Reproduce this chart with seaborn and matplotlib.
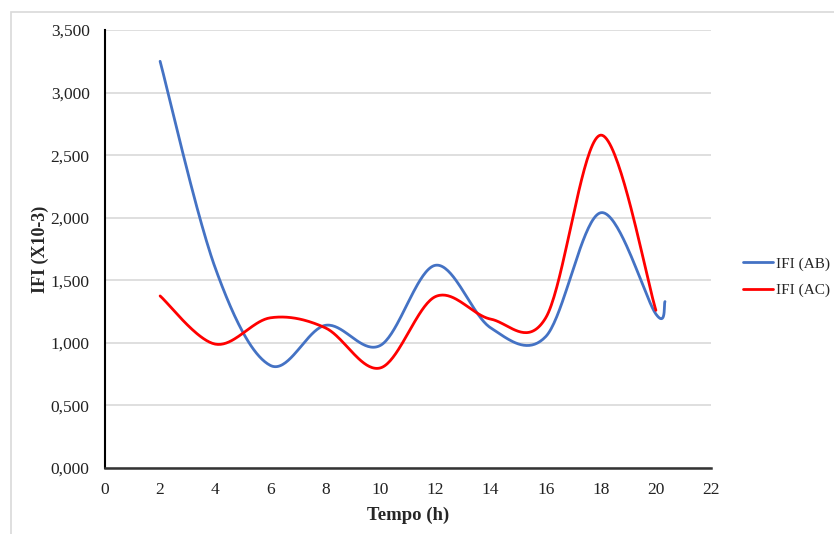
import numpy as np
import pandas as pd
import matplotlib
matplotlib.use("Agg")
import matplotlib.pyplot as plt
import seaborn as sns
from matplotlib.lines import Line2D

# Data
time_ab = [2, 4, 6, 8, 10, 12, 14, 16, 18, 20, 20.33]
ifi_ab = [3.25, 1.60, 0.82, 1.14, 0.98, 1.62, 1.12, 1.05, 2.04, 1.23, 1.33]
time_ac = [2, 4, 6, 8, 10, 12, 14, 16, 18, 20]
ifi_ac = [1.375, 0.99, 1.20, 1.12, 0.80, 1.37, 1.19, 1.20, 2.66, 1.26]
series_names = ["IFI (AB)", "IFI (AC)"]
colors = ["#4472C4", "#FF0000"]
y_ticks = [0, 0.5, 1.0, 1.5, 2.0, 2.5, 3.0, 3.5]
x_ticks = list(range(0, 23, 2))


def smooth(xs, ys, n=40):
    """Excel-like smoothed line (cardinal Bezier) through the points."""
    xs = np.asarray(xs, float)
    ys = np.asarray(ys, float)
    px, py = [], []
    m = len(xs)
    for i in range(m - 1):
        x0, y0 = (xs[i - 1], ys[i - 1]) if i > 0 else (xs[i], ys[i])
        x1, y1 = xs[i], ys[i]
        x2, y2 = xs[i + 1], ys[i + 1]
        x3, y3 = (xs[i + 2], ys[i + 2]) if i + 2 < m else (x2, y2)
        c1x, c1y = x1 + (x2 - x0) / 6, y1 + (y2 - y0) / 6
        c2x, c2y = x2 - (x3 - x1) / 6, y2 - (y3 - y1) / 6
        t = np.linspace(0, 1, n, endpoint=(i == m - 2))
        b0 = (1 - t) ** 3
        b1 = 3 * (1 - t) ** 2 * t
        b2 = 3 * (1 - t) * t ** 2
        b3 = t ** 3
        px.extend(b0 * x1 + b1 * c1x + b2 * c2x + b3 * x2)
        py.extend(b0 * y1 + b1 * c1y + b2 * c2y + b3 * y2)
    return np.array(px), np.array(py)


frames = []
for name, xs, ys in [(series_names[0], time_ab, ifi_ab), (series_names[1], time_ac, ifi_ac)]:
    sx, sy = smooth(xs, ys)
    frames.append(pd.DataFrame({"Tempo": sx, "IFI": sy, "Serie": name}))
df = pd.concat(frames, ignore_index=True)

sns.set_theme(style="white")
plt.rcParams["font.family"] = ["Liberation Serif", "DejaVu Serif"]

fig = plt.figure(figsize=(8.34, 5.34), dpi=100)
ax = fig.add_axes([105 / 834, 1 - 468 / 534, (711 - 105) / 834, (468 - 30) / 534])

# outer chart border (runs off the right and bottom edges)
fig.patches.append(plt.Rectangle((11 / 834, -0.01), 1.0, 1 - 12 / 534 + 0.01,
                                 transform=fig.transFigure, fill=False, edgecolor="#d9d9d9", lw=1.2))

sns.lineplot(data=df, x="Tempo", y="IFI", hue="Serie", palette=colors, sort=False,
             estimator=None, units="Serie", linewidth=2.0, ax=ax, legend=False)

ax.set_xlim(0, 22)
ax.set_ylim(0, 3.5)
ax.set_xticks(x_ticks)
ax.set_yticks(y_ticks)
ax.set_yticklabels([f"{v:.3f}".replace(".", ",") for v in y_ticks])
ax.tick_params(axis="both", length=0, labelsize=12.5, colors="#222222")
ax.tick_params(axis="y", pad=11)
ax.tick_params(axis="x", pad=10)
ax.grid(axis="y", color="#d9d9d9", lw=1.2)
ax.set_axisbelow(True)
for s in ["top", "right"]:
    ax.spines[s].set_visible(False)
ax.spines["left"].set_color("#000000")
ax.spines["bottom"].set_color("#333333")
ax.spines["left"].set_linewidth(1.5)
ax.spines["bottom"].set_linewidth(1.8)

ax.set_xlabel("Tempo (h)", fontsize=13.5, fontweight="bold", labelpad=6)
ax.set_ylabel("IFI (X10-3)", fontsize=13, fontweight="bold", labelpad=1.5)

handles = [Line2D([0], [0], color=c, lw=2.0) for c in colors]
fig.legend(handles, series_names, loc="center left", bbox_to_anchor=(741 / 834, 1 - 277 / 534),
           frameon=False, fontsize=11, handlelength=2.0, handletextpad=0.2, labelspacing=0.85,
           borderpad=0.1, borderaxespad=0)

fig.savefig("out.png", dpi=100)
